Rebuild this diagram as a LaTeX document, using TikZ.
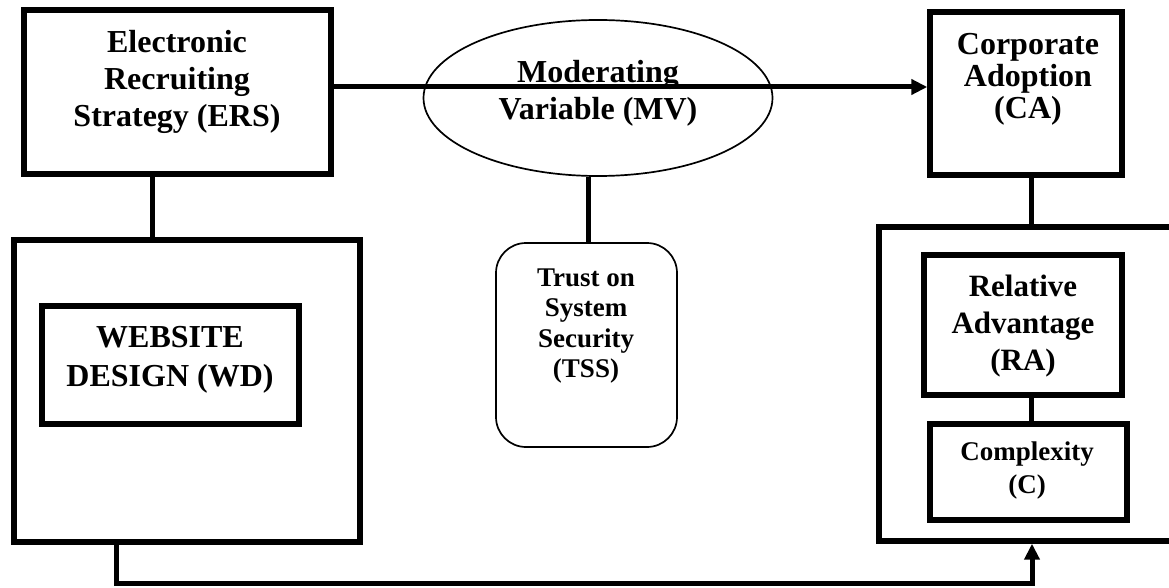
\documentclass[tikz,border=0pt]{standalone}
\usepackage{fontspec}
\setmainfont{Liberation Serif}
\usetikzlibrary{arrows.meta,shapes.geometric}
\tikzset{
  box/.style={draw, line width=5.4pt, rectangle, inner sep=0pt},
  thinbox/.style={draw, line width=1.7pt, inner sep=0pt},
  big/.style={font=\bfseries\fontsize{32}{37}\selectfont, align=center, inner sep=0pt},
  small/.style={font=\bfseries\fontsize{27}{30.3}\selectfont, align=center, inner sep=0pt},
  conn/.style={line width=5pt},
  tip/.style={-{Triangle[length=16pt,width=15pt]}}
}
\begin{document}
\begin{tikzpicture}[x=1pt,y=-1pt]
\clip (0,0) rectangle (1169,588);
\fill[white] (0,0) rectangle (1169,588);
% boxes
\node[box, minimum width=307pt, minimum height=164pt] (ERS) at (177.5,92) {};
\node[box, minimum width=192pt, minimum height=163pt] (CA) at (1026,93.5) {};
\node[box, minimum width=346pt, minimum height=302pt] (LO) at (187,391) {};
\node[box, minimum width=257pt, minimum height=118pt] (WD) at (170.5,365) {};
\node[box, minimum width=310pt, minimum height=314pt] (RO) at (1034,384) {};
\node[box, minimum width=198pt, minimum height=140pt] (RA) at (1023,325) {};
\node[box, minimum width=197pt, minimum height=96pt] (C) at (1028.5,472) {};
\node[thinbox, ellipse, minimum width=349pt, minimum height=156pt] (MV) at (598,98) {};
\node[thinbox, rectangle, rounded corners=30pt, minimum width=181pt, minimum height=204pt] (TSS) at (586.5,345) {};
% texts
\node[big] (ERSt) at (177,82) {Electronic\\Recruiting\\Strategy (ERS)};
\node[big, font=\bfseries\fontsize{32}{32}\selectfont] (CAt) at (1028,79) {Corporate\\Adoption\\(CA)};
\node[big, font=\bfseries\fontsize{32}{39}\selectfont] (WDt) at (170,360) {WEBSITE\\DESIGN (WD)};
\node[big] (MVt) at (598,93.5) {Moderating\\Variable (MV)};
\node[small] (TSSt) at (586,326) {Trust on\\System\\Security\\(TSS)};
\node[big, font=\bfseries\fontsize{31}{37}\selectfont] (RAt) at (1023,326.5) {Relative\\Advantage\\(RA)};
\node[small, font=\bfseries\fontsize{27}{33}\selectfont] (Ct) at (1027,471) {Complexity\\(C)};
% connectors
\coordinate (topline) at (0,87);
\coordinate (bot) at (1032,583);
\draw[conn, tip] (ERS.east |- topline) -- (CA.west |- topline);
\draw[conn] (ERS.south -| 152,0) -- (LO.north -| 152,0);
\draw[conn] (CA.south -| 1031,0) -- (RO.north -| 1031,0);
\draw[conn] (MV.south -| 588,0) -- (TSS.north -| 588,0);
\draw[conn] (RA.south -| 1031,0) -- (C.north -| 1031,0);
\draw[conn, tip] (LO.south -| 116,0) |- (bot) -- (RO.south -| bot);
\end{tikzpicture}
\end{document}
